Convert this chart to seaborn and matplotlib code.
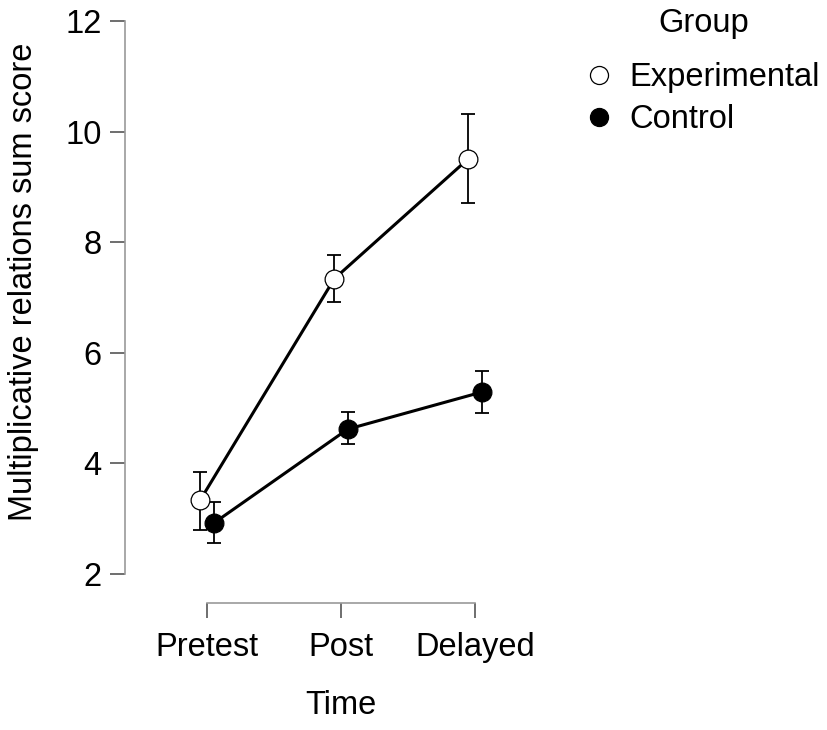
import numpy as np
import pandas as pd
import matplotlib
matplotlib.use("Agg")
import matplotlib.pyplot as plt
from matplotlib.lines import Line2D
import seaborn as sns

# values
times = ["Pretest", "Post", "Delayed"]
groups = ["Experimental", "Control"]
exp_mean = [3.34, 7.34, 9.51]
exp_lo = [2.80, 6.92, 8.71]
exp_hi = [3.84, 7.77, 10.32]
ctl_mean = [2.92, 4.62, 5.29]
ctl_lo = [2.56, 4.35, 4.91]
ctl_hi = [3.30, 4.93, 5.67]

rows = []
for g, m, lo, hi in [("Experimental", exp_mean, exp_lo, exp_hi),
                     ("Control", ctl_mean, ctl_lo, ctl_hi)]:
    for i, t in enumerate(times):
        rows.append({"time": t, "code": i, "group": g, "mean": m[i], "lo": lo[i], "hi": hi[i]})
df = pd.DataFrame(rows)
offsets = {"Experimental": -0.05, "Control": 0.05}
df["x"] = df["code"] + df["group"].map(offsets)

sns.set_style("ticks")
plt.rcParams["font.family"] = ["Liberation Sans", "DejaVu Sans"]
plt.rcParams["text.color"] = "black"
plt.rcParams["axes.labelcolor"] = "black"
FS = 23.5

fig = plt.figure(figsize=(8.27, 7.3), dpi=100)
ax = fig.add_axes([125 / 827, 1 - 603 / 730, (540 - 125) / 827, (603 - 15) / 730])

faces = {"Experimental": "white", "Control": "black"}
for g in groups:
    d = df[df["group"] == g]
    ax.errorbar(d["x"], d["mean"], yerr=[d["mean"] - d["lo"], d["hi"] - d["mean"]],
                fmt="none", ecolor="black", elinewidth=1.3, capsize=5, capthick=1.3, zorder=2)
    sns.lineplot(data=d, x="x", y="mean", ax=ax, color="black", linewidth=2.2,
                 marker="o", markersize=13.5, markerfacecolor=faces[g],
                 markeredgecolor="black", markeredgewidth=0.9, zorder=3)

ax.set_xlim(-0.612, 2.485)
ax.set_ylim(1.476, 12.11)
ax.set_xticks(range(len(times)))
ax.set_xticklabels(times)
ax.set_yticks([2, 4, 6, 8, 10, 12])
ax.set_yticklabels(["2", "4", "6", "8", "10", "12"])

for s in ["top", "right"]:
    ax.spines[s].set_visible(False)
ax.spines["left"].set_bounds(2, 12)
ax.spines["bottom"].set_bounds(0, 2)
for s in ["left", "bottom"]:
    ax.spines[s].set_color("#9a9a9a")
    ax.spines[s].set_linewidth(1.2)
ax.tick_params(axis="both", length=11, width=1.2, color="#555555", labelsize=FS,
               labelcolor="black")
ax.tick_params(axis="y", pad=6)
ax.tick_params(axis="x", pad=10)

ax.set_xlabel("Time", fontsize=FS, color="black")
ax.set_ylabel("Multiplicative relations sum score", fontsize=FS, color="black")
ax.xaxis.set_label_coords(0.52, -0.148)
ax.yaxis.set_label_coords(-0.208, 0.546)

handles = [Line2D([], [], linestyle="none", marker="o", markersize=13,
                  markerfacecolor=faces[g], markeredgecolor="black", markeredgewidth=0.9)
           for g in groups]
fig.text(704 / 827, 1 - 32 / 730, "Group", ha="center", va="baseline", fontsize=FS,
         color="black")
leg = fig.legend(handles, groups, loc="upper left",
                 bbox_to_anchor=(583 / 827, 1 - 62 / 730), frameon=False,
                 fontsize=FS, handlelength=1.0, handletextpad=0.42,
                 labelspacing=0.35, borderaxespad=0, borderpad=0, labelcolor="black")

fig.savefig("out.png", dpi=100)
